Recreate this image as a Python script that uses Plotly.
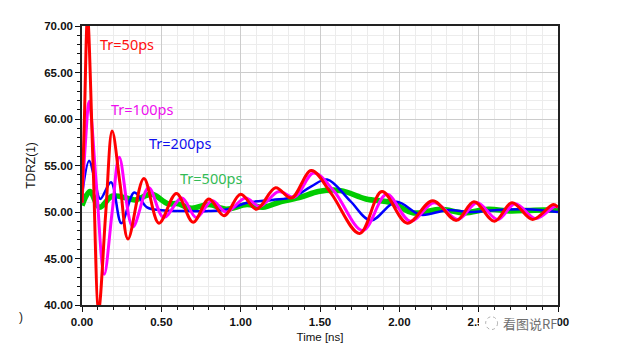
import plotly.graph_objects as go

# ---- data ----
red_t = [0.00, 0.015, 0.035, 0.07, 0.105, 0.15, 0.19, 0.24, 0.29, 0.39, 0.485, 0.595, 0.70, 0.80, 0.895,
         1.00, 1.10, 1.22, 1.32, 1.445, 1.57, 1.75, 1.89, 2.05, 2.21, 2.36, 2.47, 2.60, 2.71, 2.84, 2.97, 3.00]
red_v = [51.0, 60.0, 71.0, 55.0, 39.5, 50.0, 58.7, 53.0, 47.1, 53.6, 48.8, 52.0, 48.9, 51.4, 49.6,
         51.9, 50.3, 52.6, 51.5, 54.45, 52.0, 47.7, 52.2, 48.8, 51.2, 49.1, 51.1, 49.0, 51.0, 49.2, 50.8, 50.5]

mag_t = [0.00, 0.02, 0.045, 0.09, 0.14, 0.19, 0.235, 0.32, 0.42, 0.515, 0.63, 0.72, 0.82, 0.91,
         1.03, 1.12, 1.24, 1.34, 1.46, 1.59, 1.77, 1.92, 2.07, 2.22, 2.37, 2.49, 2.62, 2.73, 2.86, 2.98, 3.00]
mag_v = [51.0, 57.0, 61.9, 53.0, 43.3, 50.0, 55.9, 48.4, 52.6, 49.4, 51.5, 49.4, 51.2, 50.0,
         51.5, 50.6, 52.2, 51.6, 54.2, 52.2, 48.0, 51.9, 49.0, 51.0, 49.2, 51.0, 49.2, 50.9, 49.3, 50.6, 50.5]

blue_t = [0.00, 0.045, 0.08, 0.115, 0.183, 0.248, 0.33, 0.41, 0.50, 0.65, 0.80, 0.92, 1.04, 1.20, 1.33,
          1.44, 1.545, 1.69, 1.82, 1.98, 2.135, 2.30, 2.45, 2.60, 2.80, 3.00]
blue_v = [51.8, 55.5, 53.5, 51.4, 53.2, 48.8, 52.1, 50.5, 50.2, 50.1, 50.1, 50.3, 51.0, 51.3, 51.6,
          52.7, 53.5, 51.2, 49.1, 51.1, 49.7, 50.2, 50.0, 50.2, 50.3, 50.0]

green_t = [0.00, 0.05, 0.11, 0.19, 0.28, 0.335, 0.44, 0.54, 0.60, 0.69, 0.80, 0.91, 1.04, 1.14, 1.25,
           1.38, 1.49, 1.63, 1.79, 1.95, 2.09, 2.26, 2.41, 2.56, 2.70, 2.85, 3.00]
green_v = [50.7, 52.2, 50.5, 51.7, 51.5, 51.3, 51.9, 50.9, 50.9, 50.4, 50.8, 50.3, 50.8, 50.5, 51.1,
           51.6, 52.2, 52.3, 51.4, 51.0, 49.9, 50.3, 49.9, 50.3, 50.1, 50.2, 50.2]

x_ticks = [0.0, 0.5, 1.0, 1.5, 2.0, 2.5, 3.0]
y_ticks = [40, 45, 50, 55, 60, 65, 70]

labels = ["Tr=50ps", "Tr=100ps", "Tr=200ps", "Tr=500ps"]
label_colors = ["#ff1010", "#ee10ee", "#1010ee", "#33bb55"]
label_pos = [(0.284, 68.1), (0.375, 61.1), (0.616, 57.4), (0.812, 53.7)]

fig = go.Figure()
series = [
    (green_t, green_v, "#00cc00", 5.5),
    (blue_t, blue_v, "#0000ff", 2.5),
    (mag_t, mag_v, "#ff00ff", 3),
    (red_t, red_v, "#ff0000", 3),
]
for t, v, c, w in series:
    fig.add_trace(go.Scatter(x=t, y=v, mode="lines", line=dict(color=c, width=w, shape="spline", smoothing=1.0),
                             showlegend=False, hoverinfo="skip"))

for txt, col, (px, py) in zip(labels, label_colors, label_pos):
    fig.add_annotation(x=px, y=py, text=txt, showarrow=False, xref="x", yref="y",
                       font=dict(family="Noto Sans", size=14.5, color=col))

# watermark (white patch + icon + text) overlapping the last tick labels
fig.add_shape(type="rect", xref="paper", yref="paper", x0=0.834, x1=0.88, y0=-0.035, y1=-0.10,
              line=dict(width=0), fillcolor="white", layer="above")
fig.add_shape(type="circle", xref="paper", yref="paper", x0=0.848, x1=0.873, y0=-0.042, y1=-0.088,
              line=dict(color="#b0b0b0", width=1, dash="dot"), fillcolor="white", layer="above")
fig.add_annotation(x=0.941, y=-0.068, xref="paper", yref="paper", text="看图说RF", showarrow=False,
                   font=dict(family="Noto Sans CJK SC", size=13, color="#6f6f6f"),
                   bgcolor="white", borderpad=0, xanchor="center", yanchor="middle")
fig.add_annotation(x=-0.137, y=-0.075, xref="paper", yref="paper", text=")", showarrow=False,
                   font=dict(family="Liberation Sans", size=12, color="#222"))

fig.update_layout(
    width=630, height=355,
    margin=dict(l=74, r=80, t=13, b=58),
    paper_bgcolor="white", plot_bgcolor="white",
    font=dict(family="Liberation Sans", size=11.5, color="#111111"),
    xaxis=dict(range=[0, 3], tickvals=x_ticks, ticktext=[f"<b>{v:.2f}</b>" for v in x_ticks],
               showgrid=True, gridcolor="#cccccc", gridwidth=1,
               ticks="outside", ticklen=5, tickcolor="#111",
               showline=True, linecolor="#222", linewidth=1.5, mirror=True,
               minor=dict(dtick=0.1, ticks="outside", ticklen=3, tickcolor="#111",
                          showgrid=True, gridcolor="#ececec", gridwidth=1),
               title=dict(text="Time [ns]", font=dict(size=11.5), standoff=6),
               zeroline=False),
    yaxis=dict(range=[40, 70], tickvals=y_ticks, ticktext=[f"<b>{v:.2f}</b>" for v in y_ticks],
               showgrid=True, gridcolor="#cccccc", gridwidth=1,
               ticks="outside", ticklen=5, tickcolor="#111",
               showline=True, linecolor="#222", linewidth=1.5, mirror=True,
               minor=dict(dtick=1, ticks="outside", ticklen=3, tickcolor="#111",
                          showgrid=True, gridcolor="#ececec", gridwidth=1),
               title=dict(text="TDRZ(1)", font=dict(size=12), standoff=6),
               zeroline=False),
)

fig.write_html("out.html")
